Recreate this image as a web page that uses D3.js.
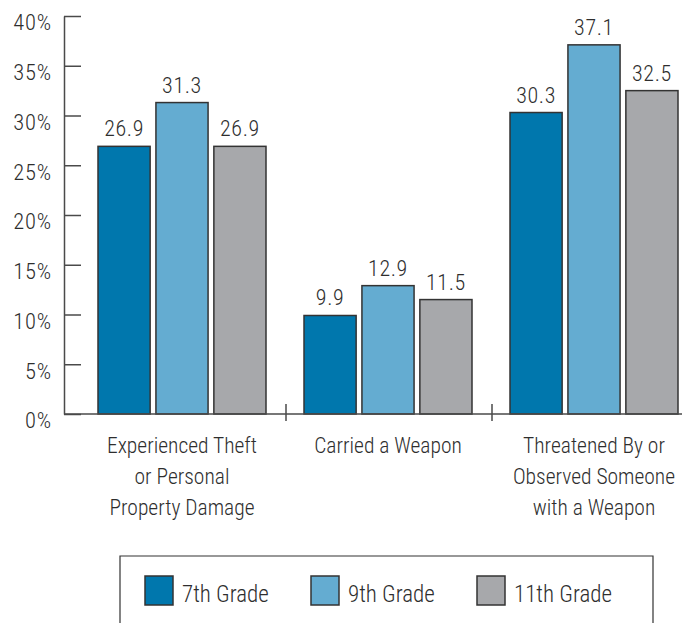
<!DOCTYPE html>
<html>
<head>
<meta charset="utf-8">
<script src="https://cdn.jsdelivr.net/npm/d3@7"></script>
<style>
  html, body { margin: 0; padding: 0; background: #fff; }
  svg { display: block; }
  text { font-family: "Roboto Condensed", "Liberation Sans Narrow", "Arial Narrow", sans-serif; font-weight: 300; fill: #2e2e2e; }
</style>
</head>
<body>
<svg id="chart" width="682" height="623"></svg>
<script>
const categories = ["theft", "weapon", "threat"];
const categoryLabels = [
  ["Experienced Theft", "or Personal", "Property Damage"],
  ["Carried a Weapon"],
  ["Threatened By or", "Observed Someone", "with a Weapon"]
];
const seriesNames = ["7th Grade", "9th Grade", "11th Grade"];
const grade7 = [26.9, 9.9, 30.3];
const grade9 = [31.3, 12.9, 37.1];
const grade11 = [26.9, 11.5, 32.5];
const seriesColors = ["#0077ad", "#64acd1", "#a7a8ab"];
const yTicks = [0, 5, 10, 15, 20, 25, 30, 35, 40];

const seriesValues = [grade7, grade9, grade11];
const svg = d3.select("#chart");

const y = d3.scaleLinear().domain([0, 40]).range([414, 16]);
const x0 = d3.scaleBand().domain(categories).range([80, 698]).paddingInner(0).paddingOuter(0);
const x1 = d3.scaleBand().domain(seriesNames).range([18, 186]).paddingInner(0.1).paddingOuter(0);
const color = d3.scaleOrdinal().domain(seriesNames).range(seriesColors);

// Y axis
const yAxis = d3.axisLeft(y)
  .tickValues(yTicks)
  .tickFormat(d => d + "%")
  .tickSizeInner(-17)
  .tickSizeOuter(0)
  .tickPadding(12);
const gy = svg.append("g").attr("transform", "translate(64,0)").call(yAxis);
gy.attr("font-family", null).attr("font-size", null);
gy.select(".domain").attr("stroke", "#4a4a4a").attr("stroke-width", 1.5);
gy.selectAll(".tick line").attr("stroke", "#4a4a4a").attr("stroke-width", 1.5);
gy.selectAll(".tick text")
  .attr("font-size", 22.5)
  .attr("letter-spacing", 0.8)
  .attr("dy", "0.62em")
  .attr("fill", "#2e2e2e");

// Bars
const groups = svg.append("g").selectAll("g")
  .data(categories)
  .join("g")
  .attr("transform", d => `translate(${x0(d)},0)`);

groups.selectAll("rect")
  .data((c, i) => seriesNames.map((s, j) => ({ s, v: seriesValues[j][i] })))
  .join("rect")
  .attr("x", d => x1(d.s))
  .attr("y", d => y(d.v))
  .attr("width", x1.bandwidth())
  .attr("height", d => y(0) - y(d.v))
  .attr("fill", d => color(d.s))
  .attr("stroke", "#333")
  .attr("stroke-width", 1.5);

groups.selectAll("text.val")
  .data((c, i) => seriesNames.map((s, j) => ({ s, v: seriesValues[j][i] })))
  .join("text")
  .attr("class", "val")
  .attr("x", d => x1(d.s) + x1.bandwidth() / 2)
  .attr("y", d => y(d.v) - 10)
  .attr("text-anchor", "middle")
  .attr("font-size", 22)
  .attr("letter-spacing", 0.6)
  .text(d => d.v.toFixed(1));

// Baseline
svg.append("line")
  .attr("x1", 64).attr("x2", 682)
  .attr("y1", y(0)).attr("y2", y(0))
  .attr("stroke", "#4a4a4a").attr("stroke-width", 1.5);

// Category separators
svg.append("g").selectAll("line")
  .data(categories.slice(1))
  .join("line")
  .attr("x1", d => x0(d)).attr("x2", d => x0(d))
  .attr("y1", y(0) - 10).attr("y2", y(0) + 7)
  .attr("stroke", "#4a4a4a").attr("stroke-width", 1.5);

// Category labels
const catLabels = svg.append("g").selectAll("text")
  .data(categories)
  .join("text")
  .attr("x", d => x0(d) + (x1.range()[0] + x1.range()[1]) / 2)
  .attr("y", 453)
  .attr("text-anchor", "middle")
  .attr("font-size", 21.5);
catLabels.each(function(d, i) {
  d3.select(this).selectAll("tspan")
    .data(categoryLabels[i])
    .join("tspan")
    .attr("x", x0(d) + (x1.range()[0] + x1.range()[1]) / 2)
    .attr("dy", (t, k) => k === 0 ? 0 : 31)
    .text(t => t);
});

// Legend
const legend = svg.append("g");
legend.append("path")
  .attr("d", "M120,630 V556 H653 V630")
  .attr("fill", "none")
  .attr("stroke", "#333")
  .attr("stroke-width", 1.2);
const legendX = d3.scalePoint().domain(seriesNames).range([145, 477]);
const li = legend.selectAll("g.item")
  .data(seriesNames)
  .join("g")
  .attr("class", "item")
  .attr("transform", d => `translate(${legendX(d)},576)`);
li.append("rect")
  .attr("width", 28).attr("height", 29)
  .attr("fill", d => color(d))
  .attr("stroke", "#333").attr("stroke-width", 1.5);
li.append("text")
  .attr("x", 37)
  .attr("y", 26)
  .attr("font-size", 23)
  .text(d => d);
</script>
</body>
</html>
